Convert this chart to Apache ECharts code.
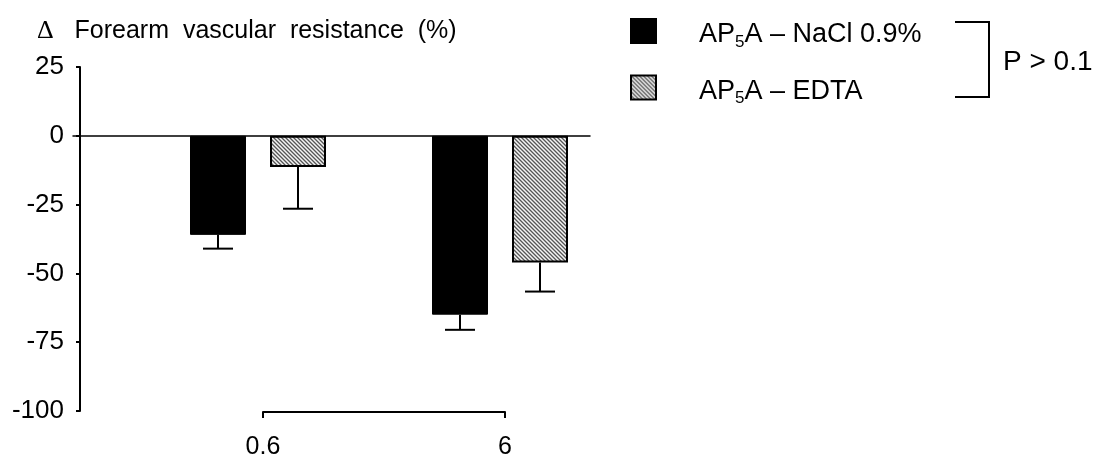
<!DOCTYPE html>
<html>
<head>
<meta charset="utf-8">
<title>Forearm vascular resistance</title>
<script src="https://cdn.jsdelivr.net/npm/echarts@6/dist/echarts.min.js"></script>
<style>
html, body { margin: 0; padding: 0; background: #fff; }
#chart { width: 1099px; height: 459px; }
</style>
</head>
<body>
<div id="chart"></div>
<script>
// data
var doses = ['0.6', '6'];
var naclName = 'AP5A – NaCl 0.9%';
var edtaName = 'AP5A – EDTA';
var naclMean = [-36, -65];
var naclErr = [5, 5.5];
var edtaMean = [-11.3, -46];
var edtaErr = [15.2, 10.6];
var yMin = -100, yMax = 25, yStep = 25;

var BAR_W = 56, BAR_GAP = 24, CAP = 30;
var FONT = '"Liberation Sans", Arial, sans-serif';

function makeHatch() {
    var c = document.createElement('canvas');
    c.width = 4;
    c.height = 4;
    var ctx = c.getContext('2d');
    ctx.fillStyle = '#ababab';
    ctx.fillRect(0, 0, 4, 4);
    for (var i = 0; i < 4; i++) {
        ctx.fillStyle = '#555555';
        ctx.fillRect(i, i, 1, 1);
        ctx.fillStyle = '#f4f4f4';
        ctx.fillRect((i + 2) % 4, i, 1, 1);
    }
    return c;
}
var hatch = { image: makeHatch(), repeat: 'repeat' };

function errorBars(means, errs, side) {
    return {
        type: 'custom',
        xAxisIndex: 0,
        yAxisIndex: 0,
        z: 3,
        silent: true,
        encode: { x: 0, y: [1, 2] },
        data: means.map(function (m, i) { return [i, m, m - errs[i]]; }),
        renderItem: function (params, api) {
            var i = api.value(0);
            var a = api.coord([i, api.value(1)]);
            var b = api.coord([i, api.value(2)]);
            var x = a[0] + side * (BAR_W + BAR_GAP) / 2;
            var st = { stroke: '#000', lineWidth: 2 };
            return {
                type: 'group',
                children: [
                    { type: 'line', shape: { x1: x, y1: a[1], x2: x, y2: b[1] }, style: st },
                    { type: 'line', shape: { x1: x - CAP / 2, y1: b[1], x2: x + CAP / 2, y2: b[1] }, style: st }
                ]
            };
        }
    };
}

var chart = echarts.init(document.getElementById('chart'));

var option = {
    animation: false,
    backgroundColor: '#fff',
    title: {
        text: '{d|Δ}   Forearm  vascular  resistance  (%)',
        left: 37,
        top: 18,
        padding: 0,
        textStyle: {
            fontFamily: FONT,
            fontSize: 25,
            fontWeight: 'normal',
            color: '#000',
            rich: {
                d: { fontFamily: '"Liberation Serif", serif', fontSize: 26, color: '#000' }
            }
        }
    },
    legend: {
        data: [naclName, edtaName],
        orient: 'vertical',
        left: 630,
        top: 14,
        padding: 0,
        itemWidth: 25,
        itemHeight: 24,
        itemGap: 20,
        icon: 'rect',
        selectedMode: false,
        formatter: function (name) {
            return name.replace('AP5A', 'AP{sub|5}A');
        },
        textStyle: {
            fontFamily: FONT,
            fontSize: 27,
            color: '#000',
            lineHeight: 26,
            padding: [8, 0, 0, 38],
            rich: {
                sub: { fontSize: 17, lineHeight: 17, padding: [14, 0, 0, 0], fontFamily: FONT, color: '#000' }
            }
        }
    },
    grid: [
        { left: 137, right: 478, top: 67, bottom: 48, outerBoundsMode: 'none' },
        { left: 73, right: 509, top: 67, bottom: 48, outerBoundsMode: 'none' },
        { left: 263, right: 594, top: 67, bottom: 47, outerBoundsMode: 'none' }
    ],
    xAxis: [
        { gridIndex: 0, type: 'category', data: doses, show: false },
        {
            gridIndex: 1, type: 'value', min: 0, max: 1,
            axisLine: { show: true, onZero: true, lineStyle: { color: '#000', width: 1.5 } },
            axisTick: { show: false }, axisLabel: { show: false }, splitLine: { show: false }
        },
        {
            gridIndex: 2, type: 'category', data: doses, boundaryGap: false,
            axisLine: { show: true, onZero: false, lineStyle: { color: '#000', width: 2 } },
            axisTick: { show: true, length: 6, interval: 0, lineStyle: { color: '#000', width: 2 } },
            axisLabel: { interval: 0, margin: 23, fontFamily: FONT, fontSize: 25, color: '#000' },
            splitLine: { show: false }
        }
    ],
    yAxis: [
        {
            gridIndex: 0, type: 'value', min: yMin, max: yMax, interval: yStep,
            offset: 57,
            axisLine: { show: true, onZero: false, lineStyle: { color: '#000', width: 2 } },
            axisTick: { show: true, length: 4, lineStyle: { color: '#000', width: 2 } },
            axisLabel: { margin: 16, padding: [8, 0, 0, 0], fontFamily: FONT, fontSize: 26, color: '#000' },
            splitLine: { show: false }
        },
        { gridIndex: 1, type: 'value', min: yMin, max: yMax, show: false },
        { gridIndex: 2, type: 'value', min: 0, max: 1, show: false }
    ],
    series: [
        {
            name: naclName,
            type: 'bar',
            xAxisIndex: 0,
            yAxisIndex: 0,
            barWidth: BAR_W,
            barGap: (BAR_GAP / BAR_W * 100) + '%',
            data: naclMean,
            itemStyle: { color: '#000', borderColor: '#000', borderWidth: 1 },
            silent: true
        },
        {
            name: edtaName,
            type: 'bar',
            xAxisIndex: 0,
            yAxisIndex: 0,
            barWidth: BAR_W,
            barGap: (BAR_GAP / BAR_W * 100) + '%',
            data: edtaMean,
            itemStyle: { color: hatch, borderColor: '#000', borderWidth: 2 },
            silent: true
        },
        errorBars(naclMean, naclErr, -1),
        errorBars(edtaMean, edtaErr, 1)
    ],
    graphic: [
        {
            type: 'polyline',
            shape: { points: [[955, 22], [989, 22], [989, 97], [955, 97]] },
            style: { stroke: '#000', lineWidth: 2, fill: null }
        },
        {
            type: 'text',
            x: 1003,
            y: 62,
            style: { text: 'P > 0.1', font: '28px ' + FONT, fill: '#000', verticalAlign: 'middle' }
        }
    ]
};

chart.setOption(option);
</script>
</body>
</html>
